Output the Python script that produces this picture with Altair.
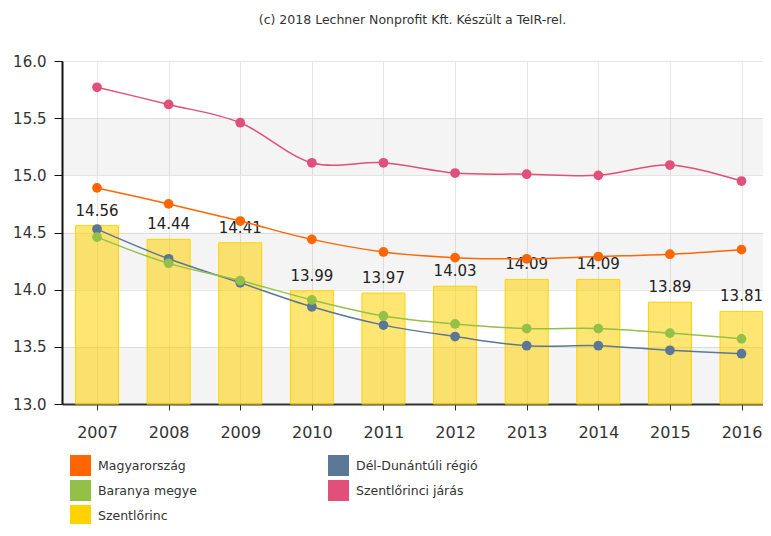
import altair as alt
import pandas as pd

years = [2007, 2008, 2009, 2010, 2011, 2012, 2013, 2014, 2015, 2016]
magyarorszag = [14.89, 14.75, 14.60, 14.44, 14.33, 14.28, 14.27, 14.29, 14.31, 14.35]
del_dunantuli = [14.53, 14.27, 14.06, 13.85, 13.69, 13.59, 13.51, 13.51, 13.47, 13.44]
baranya = [14.46, 14.23, 14.08, 13.91, 13.77, 13.70, 13.66, 13.66, 13.62, 13.57]
szentlorinci_jaras = [15.77, 15.62, 15.46, 15.11, 15.11, 15.02, 15.01, 15.00, 15.09, 14.95]
szentlorinc = [14.56, 14.44, 14.41, 13.99, 13.97, 14.03, 14.09, 14.09, 13.89, 13.81]

# legend order (column-major: first column, then second column)
series_names = ["Magyarország", "Baranya megye", "Szentlőrinc",
                "Dél-Dunántúli régió", "Szentlőrinci járás"]
series_colors = ["#FF6600", "#93C047", "#FFD200", "#5B7796", "#E0507A"]
y_ticks = [13.0, 13.5, 14.0, 14.5, 15.0, 15.5, 16.0]
band_lo = [13.0, 14.0, 15.0]
band_hi = [13.5, 14.5, 15.5]
title_text = "(c) 2018 Lechner Nonprofit Kft. Készült a TeIR-rel."

line_values = {
    "Magyarország": magyarorszag,
    "Dél-Dunántúli régió": del_dunantuli,
    "Baranya megye": baranya,
    "Szentlőrinci járás": szentlorinci_jaras,
}
rows = []
for name, vals in line_values.items():
    for yr, v in zip(years, vals):
        rows.append({"year": yr, "series": name, "value": v})
lines_df = pd.DataFrame(rows)
bars_df = pd.DataFrame({"year": years, "series": "Szentlőrinc", "value": szentlorinc})
bands_df = pd.DataFrame({"lo": band_lo, "hi": band_hi})

FONT = "DejaVu Sans"
PW, PH = 701, 343

x_scale = alt.Scale(domain=[2006.511, 2016.30], nice=False, zero=False, padding=0)
y_scale = alt.Scale(domain=[13, 16], nice=False, zero=False, padding=0)
fill_scale = alt.Scale(domain=series_names, range=series_colors)

x_enc = alt.X("year:Q", scale=x_scale, title=None,
              axis=alt.Axis(values=years, format="d", grid=True, gridColor="#e6e6e6",
                            domainColor="#333", domainWidth=2, tickColor="#333",
                            tickSize=6, labelFontSize=16, labelColor="#333",
                            labelPadding=14, labelFont=FONT, labelFlush=False))
y_enc = alt.Y("value:Q", scale=y_scale, title=None,
              axis=alt.Axis(values=y_ticks, format=".1f", grid=True, gridColor="#e6e6e6",
                            domainColor="#111", domainWidth=2, tickColor="#111",
                            tickSize=8, labelFontSize=15, labelColor="#333",
                            labelPadding=8, labelFont=FONT))

legend = alt.Legend(title=None, orient="none", legendX=8, legendY=394, columns=2,
                    columnPadding=131, rowPadding=4, symbolType="square",
                    symbolSize=441, symbolStrokeWidth=0, symbolOpacity=1,
                    labelFontSize=12.5, labelFont=FONT, labelColor="#333",
                    labelOffset=7, padding=0, offset=0)

bands = alt.Chart(bands_df).mark_rect(color="#000", opacity=0.045).encode(
    x=alt.value(0), x2=alt.value(PW),
    y=alt.Y("lo:Q", scale=y_scale), y2="hi:Q")

bars = alt.Chart(bars_df).mark_bar(size=43, fillOpacity=0.55, stroke="#FFD200",
                                   strokeWidth=1).encode(
    x=x_enc, y=y_enc, y2=alt.datum(13),
    fill=alt.Fill("series:N", scale=fill_scale, legend=legend))

labels = alt.Chart(bars_df).mark_text(baseline="alphabetic", dy=-10, fontSize=15,
                                      font=FONT, color="#222").encode(
    x=alt.X("year:Q", scale=x_scale), y=alt.Y("value:Q", scale=y_scale),
    text=alt.Text("value:Q", format=".2f"))

lines = alt.Chart(lines_df).mark_line(interpolate="cardinal", strokeWidth=1.5).encode(
    x=alt.X("year:Q", scale=x_scale), y=alt.Y("value:Q", scale=y_scale),
    stroke=alt.Stroke("series:N", scale=alt.Scale(domain=series_names, range=series_colors),
                      legend=None))

points = alt.Chart(lines_df).mark_circle(size=95, opacity=1).encode(
    x=alt.X("year:Q", scale=x_scale), y=alt.Y("value:Q", scale=y_scale),
    fill=alt.Fill("series:N", scale=fill_scale, legend=legend))

chart = alt.layer(bands, bars, labels, lines, points).properties(
    width=PW, height=PH,
    title=alt.TitleParams(title_text, fontSize=12.5, font=FONT, color="#333",
                          fontWeight="normal", anchor="middle", frame="group",
                          baseline="alphabetic", offset=18),
    autosize=alt.AutoSizeParams(type="none"),
    padding={"left": 54, "top": 53, "right": 0, "bottom": 120},
).configure_view(stroke=None)

chart.save("out.html", embed_options={"renderer": "svg", "actions": False})
